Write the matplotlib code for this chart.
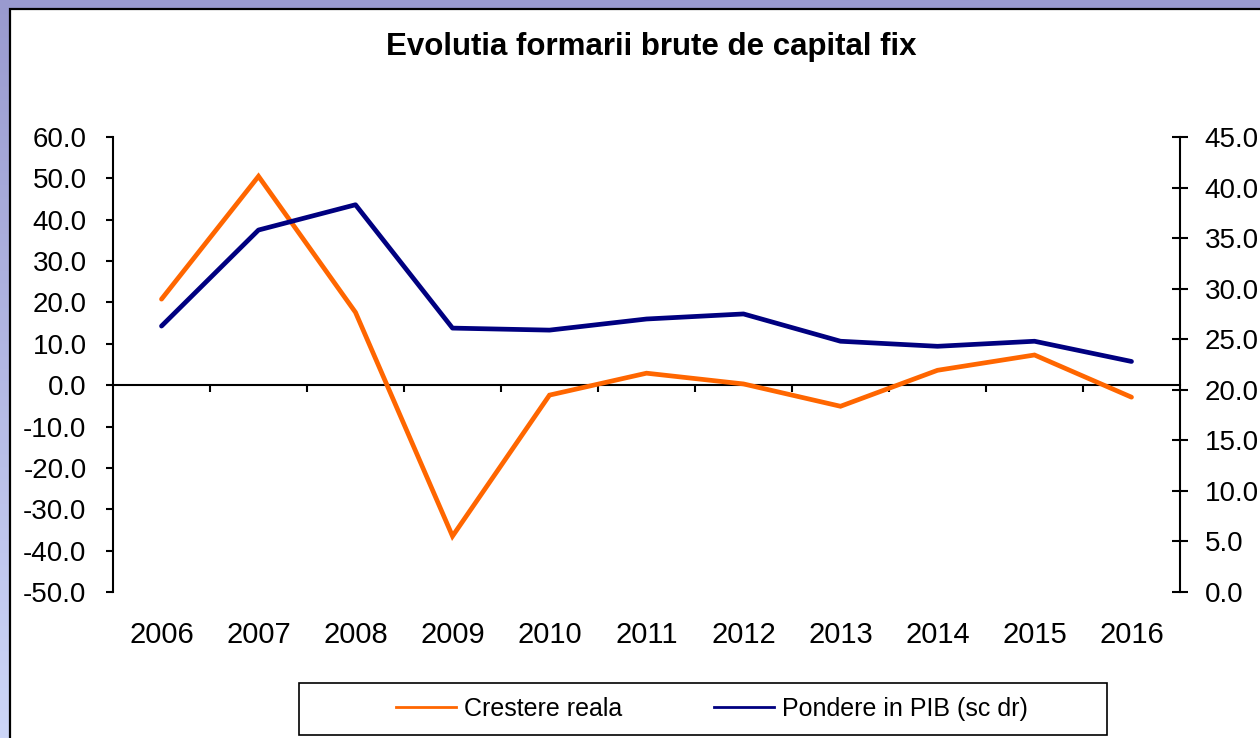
import numpy as np
import matplotlib
matplotlib.use("Agg")
import matplotlib.pyplot as plt
from matplotlib.patches import Rectangle
from matplotlib.lines import Line2D
from matplotlib.ticker import FormatStrFormatter

plt.rcParams['font.family'] = ['Liberation Sans', 'DejaVu Sans']

# --- data ---
years = ['2006', '2007', '2008', '2009', '2010', '2011',
         '2012', '2013', '2014', '2015', '2016']
crestere_reala = [20.8, 50.5, 17.6, -36.5, -2.4, 2.9, 0.3, -5.1, 3.6, 7.3, -2.9]
pondere_pib = [26.3, 35.8, 38.3, 26.1, 25.9, 27.0, 27.5, 24.8, 24.3, 24.8, 22.8]

W, H = 1260, 738
fig = plt.figure(figsize=(W / 100, H / 100), dpi=100)

# lavender backdrop with a soft vertical gradient
bg = fig.add_axes([0, 0, 1, 1], zorder=-10)
bg.axis('off')
grad = np.linspace(0, 1, 256).reshape(-1, 1)
cmap = matplotlib.colors.LinearSegmentedColormap.from_list('bg', ['#999acf', '#cdd6f8'])
bg.imshow(grad, aspect='auto', cmap=cmap, extent=[0, 1, 0, 1], origin='upper')
bg.set_xlim(0, 1)
bg.set_ylim(0, 1)
# white panel with black frame
bg.add_patch(Rectangle((10 / W, -0.05), 1.1, 1 - 9 / H + 0.05, facecolor='white',
                       edgecolor='black', linewidth=1.6))

# --- main axes ---
ax = fig.add_axes([113 / W, 1 - 592 / H, (1180 - 113) / W, (592 - 137) / H])
ax.patch.set_alpha(0)
x = np.arange(len(years))
ax.plot(x, crestere_reala, color='#ff6600', lw=3.4, solid_capstyle='round',
        solid_joinstyle='miter', zorder=3)
ax.set_xlim(-0.5, len(years) - 0.5)
ax.set_ylim(-50, 60)
ax.set_yticks(np.arange(-50, 61, 10))
ax.yaxis.set_major_formatter(FormatStrFormatter('%.1f'))
ax.tick_params(axis='y', direction='out', length=5, width=1.5, labelsize=20, pad=14)

ax.spines['top'].set_visible(False)
ax.spines['right'].set_visible(False)
ax.spines['bottom'].set_position(('data', 0))
for s in ('left', 'bottom'):
    ax.spines[s].set_linewidth(1.5)
ax.set_xticks(np.arange(0.5, len(years) - 1, 1))
ax.tick_params(axis='x', direction='out', length=5, width=1.5, labelbottom=False)

# category labels along the bottom
sec = ax.secondary_xaxis('bottom')
sec.set_xticks(x, years)
sec.tick_params(length=0, pad=21, labelsize=21)
sec.spines['bottom'].set_visible(False)

# --- right axis ---
ax2 = ax.twinx()
ax2.plot(x, pondere_pib, color='#000080', lw=3.4, solid_capstyle='round', zorder=3)
ax2.set_ylim(0, 45)
ax2.set_yticks(np.arange(0, 46, 5))
ax2.yaxis.set_major_formatter(FormatStrFormatter('%.1f'))
ax2.tick_params(axis='y', direction='inout', length=11.5, width=1.5, labelsize=20, pad=12)
for s in ('top', 'left', 'bottom'):
    ax2.spines[s].set_visible(False)
ax2.spines['right'].set_linewidth(1.5)

# --- title ---
fig.text(651 / W, 1 - 47 / H, 'Evolutia formarii brute de capital fix',
         ha='center', va='center', fontsize=22.5, fontweight='bold')

# --- legend ---
bg.add_patch(Rectangle((299 / W, 1 - 735 / H), (1107 - 299) / W, 52 / H,
                       facecolor='white', edgecolor='black', linewidth=1.2))
handles = [Line2D([], [], color='#ff6600', lw=2),
           Line2D([], [], color='#000080', lw=2)]
fig.legend(handles, ['Crestere reala', 'Pondere in PIB (sc dr)'],
           loc='center', bbox_to_anchor=(712 / W, 1 - 709 / H), ncol=2,
           frameon=False, fontsize=18, handlelength=2.4, handletextpad=0.3,
           columnspacing=3.7)

fig.savefig('out.png', dpi=100)
